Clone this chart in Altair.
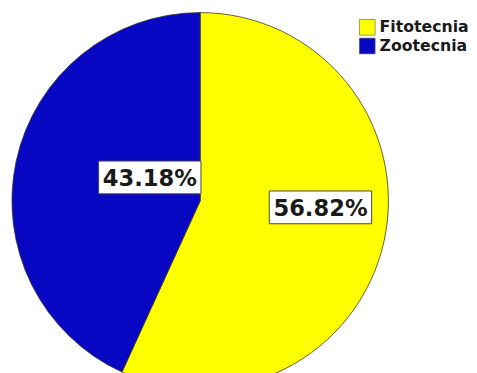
import altair as alt
import pandas as pd

categories = ["Fitotecnia", "Zootecnia"]
values = [56.82, 43.18]
labels = ["56.82%", "43.18%"]
order = [1, 2]
colors = ["#FFFF00", "#0808C4"]

df = pd.DataFrame({"cat": categories, "value": values, "label": labels, "order": order})

xs = alt.Scale(domain=[-1, 1], range=[4, 387], nice=False, zero=False)
ys = alt.Scale(domain=[-1, 1], range=[384.5, 1.5], nice=False, zero=False)

base = alt.Chart(df)

pie = base.mark_arc(radius=191.5, stroke="#3a3a20", strokeWidth=0.8).encode(
    theta=alt.Theta("value:Q", stack=True),
    order=alt.Order("order:Q"),
    color=alt.Color(
        "cat:N",
        scale=alt.Scale(domain=categories, range=colors),
        legend=alt.Legend(
            title=None,
            orient="none",
            legendX=357,
            legendY=8,
            symbolType="square",
            symbolSize=256,
            symbolStrokeColor="#555555",
            symbolStrokeWidth=0.6,
            labelFont="DejaVu Sans",
            labelFontWeight="bold",
            labelFontSize=16,
            labelColor="#1a1a1a",
            labelOffset=4,
            labelLimit=200,
            rowPadding=0,
            padding=0,
        ),
    ),
    x=alt.XDatum(0, type="quantitative", scale=xs, axis=None),
    y=alt.YDatum(0, type="quantitative", scale=ys, axis=None),
)

lab = base.transform_joinaggregate(
    total="sum(value)"
).transform_window(
    cum="sum(value)", sort=[alt.SortField("order")], frame=[None, 0]
).transform_calculate(
    mid="(datum.cum - datum.value / 2) / datum.total * 2 * PI",
    ang="datum.mid + (datum.cat == 'Fitotecnia' ? -0.16 : 0.22)",
    lr="datum.cat == 'Fitotecnia' ? 0.64 : 0.295",
    lx="datum.lr * sin(datum.ang)",
    ly="datum.lr * cos(datum.ang)",
)

box = lab.mark_point(
    shape="M-1,-0.32H1V0.32H-1Z",
    size=10850,
    filled=True,
    fill="white",
    stroke="#444444",
    strokeWidth=1,
    opacity=1,
).encode(
    x=alt.X("lx:Q", scale=xs, axis=None),
    y=alt.Y("ly:Q", scale=ys, axis=None),
)

txt = lab.mark_text(
    font="DejaVu Sans",
    fontWeight="bold",
    fontSize=23,
    color="#1a1a1a",
    align="center",
    baseline="middle",
    dy=2,
).encode(
    x=alt.X("lx:Q", scale=xs, axis=None),
    y=alt.Y("ly:Q", scale=ys, axis=None),
    text="label:N",
)

chart = alt.layer(pie, box, txt).properties(
    width=469,
    height=365,
    autosize=alt.AutoSizeParams(type="none"),
    padding=0,
    background="white",
).configure_view(stroke=None)

chart.save("out.html", embed_options={"renderer": "svg", "actions": False})
